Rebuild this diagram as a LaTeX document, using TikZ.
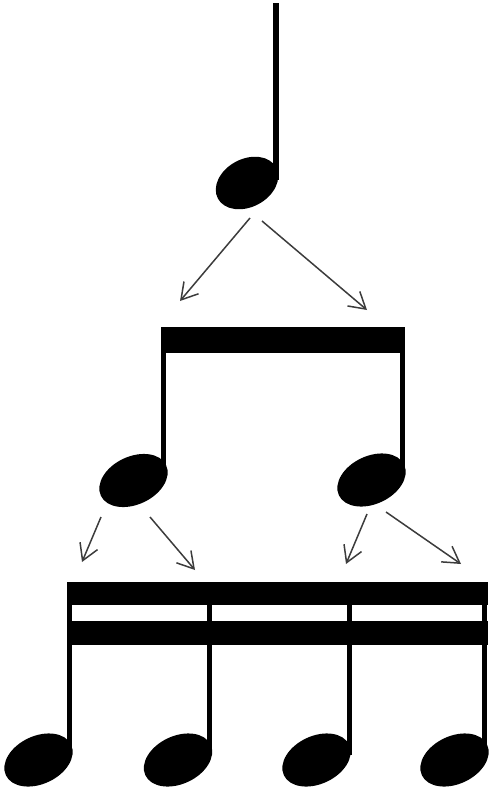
\documentclass[tikz,border=0pt]{standalone}
\usetikzlibrary{arrows.meta}
\definecolor{arrowgray}{HTML}{3C3C3C}
\tikzset{
  notehead/.style={fill=black},
  stembar/.style={fill=black},
  beambar/.style={fill=black},
  splitarrow/.style={draw=arrowgray, line width=1.5pt, -{Straight Barb[length=16pt,width=19pt,line width=1.5pt]}}
}
\begin{document}
\begin{tikzpicture}[x=1pt,y=-1pt]
\useasboundingbox (0,0) rectangle (490,792);
% quarter note
\fill[stembar] (273,3) rectangle (279,180);
\fill[notehead] (247,183) ellipse[x radius=33, y radius=24, rotate=28];
% eighth notes
\fill[beambar] (161,327) rectangle (405,353);
\fill[stembar] (161,340) rectangle (166,475);
\fill[stembar] (400,340) rectangle (405,475);
\fill[notehead] (133.5,480.5) ellipse[x radius=36, y radius=24, rotate=25];
\fill[notehead] (371.5,480) ellipse[x radius=36, y radius=24, rotate=25];
% sixteenth notes
\fill[beambar] (67,582) rectangle (488,605);
\fill[beambar] (67,621) rectangle (488,645);
\fill[stembar] (67,600) rectangle (72,755);
\fill[stembar] (207,600) rectangle (212,755);
\fill[stembar] (347,600) rectangle (352,755);
\fill[stembar] (482,600) rectangle (487,755);
\fill[notehead] (38.5,760) ellipse[x radius=36, y radius=24, rotate=25];
\fill[notehead] (178,760) ellipse[x radius=36, y radius=24, rotate=25];
\fill[notehead] (316.5,760) ellipse[x radius=36, y radius=24, rotate=25];
\fill[notehead] (454.5,760) ellipse[x radius=36, y radius=24, rotate=25];
% arrow coordinates
\coordinate (q1) at (250,218);
\coordinate (q2) at (262,221);
\coordinate (e1) at (180,301);
\coordinate (e2) at (367,310);
\coordinate (a1) at (101,517);
\coordinate (a2) at (150,517);
\coordinate (a3) at (367,514);
\coordinate (a4) at (386,512);
\coordinate (s1) at (82,562);
\coordinate (s2) at (195,570);
\coordinate (s3) at (346,564);
\coordinate (s4) at (461,564);
\draw[splitarrow] (q1) -- (e1);
\draw[splitarrow] (q2) -- (e2);
\draw[splitarrow] (a1) -- (s1);
\draw[splitarrow] (a2) -- (s2);
\draw[splitarrow] (a3) -- (s3);
\draw[splitarrow] (a4) -- (s4);
\end{tikzpicture}
\end{document}
